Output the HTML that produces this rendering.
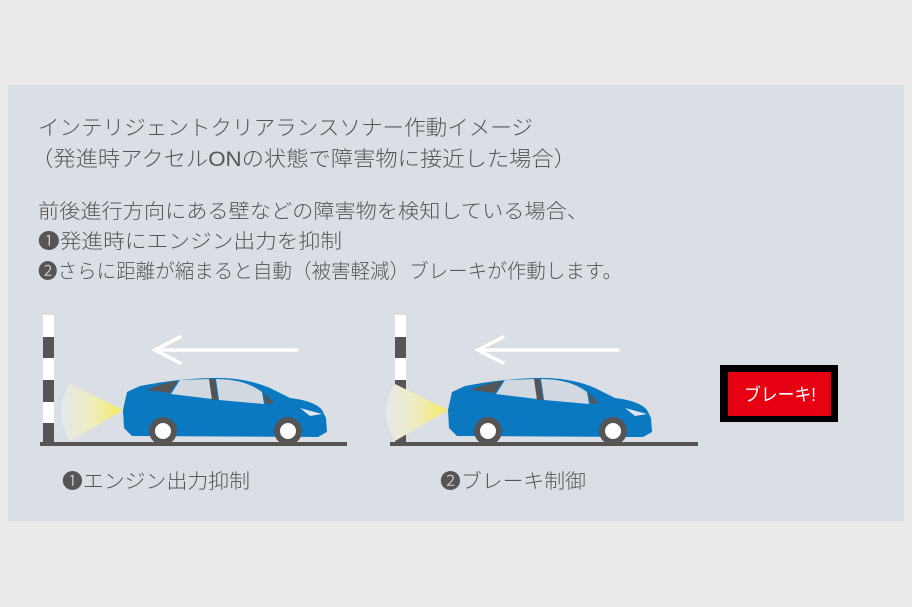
<!DOCTYPE html>
<html><head><meta charset="utf-8"><style>
html,body{margin:0;padding:0;background:#ebebeb;}
svg{display:block;}
text{font-family:"Liberation Sans","Noto Sans CJK JP",sans-serif;fill:#555;font-weight:300;}
</style></head><body>
<svg width="912" height="607" viewBox="0 0 912 607" xmlns="http://www.w3.org/2000/svg">
<defs>
<linearGradient id="cone" x1="1" y1="0" x2="0" y2="0">
<stop offset="0" stop-color="#f5ea5c"/>
<stop offset="0.5" stop-color="#efecc0"/>
<stop offset="1" stop-color="#e6e8ea"/>
</linearGradient>
<g id="car">
<path d="M123,410 L70,384 Q52,412 70,441 Z" fill="url(#cone)"/>
<path d="M127,392 L140,386 Q175,379 210,378 Q245,377 270,388 L290,398 Q315,401 322,410 L326,418 L327,432 L318,437 L132,436 L124,428 L123,410 Z" fill="#0b78c2"/>
<path d="M146,390 Q165,382 178,381 L170,393 Z" fill="#555"/>
<path d="M180,380 L210,379 L212,399 L171,394 Z" fill="#d2d8e0"/>
<path d="M209,379 L215,379 L218,400 L212,400 Z" fill="#555"/>
<path d="M216,379 Q245,379 262,392 L264,404 L219,400 Z" fill="#d2d8e0"/>
<path d="M263,392 L274,403 L266,404 Z" fill="#555"/>
<path d="M300,408 L322,414 L310,416 Z" fill="#dfe6ef"/>
<circle cx="163" cy="431" r="14" fill="#555"/>
<circle cx="163" cy="431" r="8" fill="#fff"/>
<circle cx="288" cy="431" r="14" fill="#555"/>
<circle cx="288" cy="431" r="8" fill="#fff"/>
</g>
</defs>
<rect x="8" y="85" width="896" height="436" fill="#dadee5"/>
<text x="38" y="135" font-size="21" textLength="495" lengthAdjust="spacingAndGlyphs">インテリジェントクリアランスソナー作動イメージ</text>
<text x="31" y="166" font-size="21" textLength="545" lengthAdjust="spacingAndGlyphs">（発進時アクセルONの状態で障害物に接近した場合）</text>
<text x="38" y="218" font-size="20" textLength="550" lengthAdjust="spacingAndGlyphs">前後進行方向にある壁などの障害物を検知している場合、</text>
<text x="38" y="248" font-size="20" textLength="304" lengthAdjust="spacingAndGlyphs">❶発進時にエンジン出力を抑制</text>
<text x="38" y="278" font-size="20" textLength="584" lengthAdjust="spacingAndGlyphs">❷さらに距離が縮まると自動（被害軽減）ブレーキが作動します。</text>

<rect x="43" y="315" width="11" height="128" fill="#fff"/>
<rect x="43" y="337" width="11" height="21" fill="#555"/>
<rect x="43" y="380" width="11" height="22" fill="#555"/>
<rect x="43" y="423" width="11" height="20" fill="#555"/>
<use href="#car"/>
<rect x="40" y="442" width="307" height="4" fill="#555"/>
<path d="M297,350 L155,350 M180,337 L155,350 L180,363" stroke="#fff" stroke-width="3.5" fill="none" stroke-linecap="round"/>
<text x="62" y="488" font-size="20" textLength="188" lengthAdjust="spacingAndGlyphs">❶エンジン出力抑制</text>

<rect x="395" y="315" width="11" height="128" fill="#fff"/>
<rect x="395" y="337" width="11" height="21" fill="#555"/>
<rect x="395" y="380" width="11" height="22" fill="#555"/>
<rect x="395" y="423" width="11" height="20" fill="#555"/>
<g transform="translate(325,0)"><use href="#car"/></g>
<rect x="390" y="442" width="308" height="4" fill="#555"/>
<path d="M618,350 L478,350 M503,337 L478,350 L503,363" stroke="#fff" stroke-width="3.5" fill="none" stroke-linecap="round"/>
<text x="440" y="488" font-size="20" textLength="146" lengthAdjust="spacingAndGlyphs">❷ブレーキ制御</text>

<rect x="720" y="365" width="118" height="57" fill="#000"/>
<rect x="728" y="372" width="103" height="44" fill="#e60012"/>
<text x="780" y="401" font-size="18" text-anchor="middle" textLength="72" lengthAdjust="spacingAndGlyphs" style="fill:#fff;font-weight:400">ブレーキ!</text>
</svg>
</body></html>
